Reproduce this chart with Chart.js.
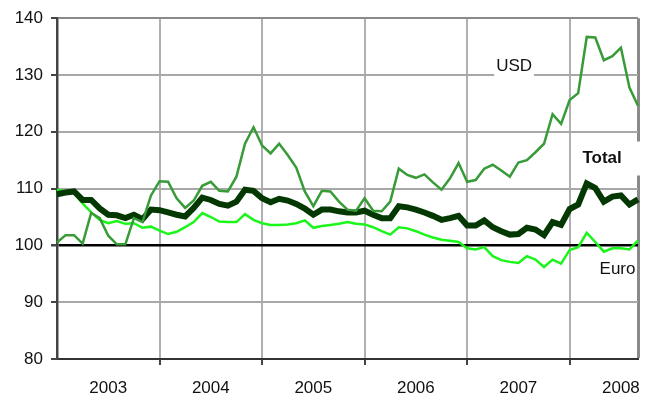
<!DOCTYPE html>
<html>
<head>
<meta charset="utf-8">
<script src="https://cdn.jsdelivr.net/npm/chart.js@4/dist/chart.umd.min.js"></script>
<style>
  html, body { margin: 0; padding: 0; background: #fff; }
  #wrap { width: 655px; height: 403px; }
</style>
</head>
<body>
<div id="wrap"><canvas id="chart" width="655" height="403"></canvas></div>
<script>
// index values, monthly Jan 2003 .. Sep 2008
const years = ['2003', '2004', '2005', '2006', '2007', '2008'];
const yTicks = [80, 90, 100, 110, 120, 130, 140];

const usd = [
  100.5, 101.8, 101.8, 100.3, 105.7, 104.8, 101.7, 100.2, 100.2, 104.8, 104.1, 108.8,
  111.3, 111.2, 108.3, 106.6, 107.9, 110.5, 111.2, 109.6, 109.5, 112.1, 117.9, 120.8,
  117.6, 116.2, 117.9, 115.9, 113.7, 109.5, 106.9, 109.6, 109.5, 107.7, 106.3, 106.1,
  108.3, 106.1, 106.0, 107.7, 113.5, 112.4, 111.9, 112.5, 111.1, 109.8, 111.8, 114.5,
  111.2, 111.5, 113.5, 114.2, 113.2, 112.1, 114.6, 115.0, 116.4, 117.9, 123.1, 121.4,
  125.6, 126.8, 136.7, 136.6, 132.6, 133.3, 134.8, 127.8, 124.6
];
const total = [
  109.0, 109.3, 109.5, 108.0, 108.0, 106.5, 105.4, 105.3, 104.8, 105.4, 104.6, 106.3,
  106.2, 105.8, 105.4, 105.1, 106.6, 108.4, 108.0, 107.3, 107.0, 107.7, 109.8, 109.6,
  108.3, 107.6, 108.2, 107.9, 107.3, 106.5, 105.4, 106.3, 106.3, 106.0, 105.8, 105.8,
  106.1, 105.4, 104.8, 104.8, 106.9, 106.7, 106.3, 105.8, 105.2, 104.5, 104.8, 105.2,
  103.5, 103.5, 104.4, 103.2, 102.5, 101.9, 102.0, 103.1, 102.8, 101.8, 104.1, 103.6,
  106.4, 107.2, 110.9, 110.1, 107.7, 108.6, 108.8, 107.2, 108.1
];
const euro = [
  109.8, 109.5, 109.2, 107.4, 105.8, 104.5, 103.9, 104.3, 103.8, 103.9, 103.1, 103.3,
  102.6, 102.0, 102.4, 103.2, 104.1, 105.7, 105.0, 104.2, 104.1, 104.1, 105.5, 104.5,
  103.9, 103.6, 103.6, 103.7, 103.9, 104.4, 103.1, 103.4, 103.6, 103.8, 104.1, 103.8,
  103.7, 103.2, 102.5, 101.9, 103.2, 103.0, 102.5, 101.9, 101.4, 101.0, 100.8, 100.6,
  99.5, 99.3, 99.7, 98.1, 97.4, 97.1, 96.9, 98.1, 97.5, 96.2, 97.5, 96.8,
  99.2, 99.7, 102.2, 100.6, 98.9, 99.5, 99.5, 99.3, 100.9
];

// one label per month
const months = [];
years.forEach(y => {
  for (let m = 1; m <= 12; m++) {
    if (months.length < usd.length) months.push(y + '-' + String(m).padStart(2, '0'));
  }
});
const last = months.length - 1;

const FONT = "'Liberation Sans', Arial, sans-serif";

// text notes on the plot, placed in data units
const notesPlugin = {
  id: 'notes',
  afterDatasetsDraw(chart) {
    const { ctx, scales: { x, y }, chartArea } = chart;
    ctx.save();
    ctx.textAlign = 'center';
    ctx.textBaseline = 'middle';

    // USD
    let px = x.getPixelForValue(53.5), py = y.getPixelForValue(131.6);
    ctx.font = '17px ' + FONT;
    let w = ctx.measureText('USD').width;
    ctx.fillStyle = '#fff';
    ctx.fillRect(px - w / 2 - 2, py - 12, w + 4, 25);
    ctx.fillStyle = '#111';
    ctx.fillText('USD', px, py);

    // Total
    px = x.getPixelForValue(63.8); py = y.getPixelForValue(115.3);
    ctx.font = 'bold 17px ' + FONT;
    w = ctx.measureText('Total').width;
    ctx.fillStyle = '#fff';
    ctx.fillRect(px - w / 2 - 4, py - 17, chartArea.right + 4 - (px - w / 2 - 4), 34);
    ctx.fillStyle = '#111';
    ctx.fillText('Total', px, py);

    // Euro
    px = x.getPixelForValue(65.6); py = y.getPixelForValue(95.8);
    ctx.font = '17px ' + FONT;
    ctx.fillText('Euro', px, py);
    ctx.restore();
  }
};

new Chart(document.getElementById('chart'), {
  type: 'line',
  data: {
    labels: months,
    datasets: [
      { label: 'USD', data: usd, borderColor: '#379b37', borderWidth: 2.5 },
      { label: 'Total', data: total, borderColor: '#033803', borderWidth: 6 },
      { label: 'Euro', data: euro, borderColor: '#1af51a', borderWidth: 2.5 }
    ]
  },
  options: {
    responsive: false,
    animation: false,
    layout: { padding: { left: 0, top: 15, right: 17, bottom: 0 } },
    elements: {
      point: { radius: 0 },
      line: { tension: 0, borderJoinStyle: 'miter' }
    },
    scales: {
      x: {
        afterFit: s => { s.height = 44; },
        border: { color: '#333', width: 2 },
        grid: {
          color: c => c.index === last ? '#8a8a8a' : (c.index % 12 === 0 && c.index > 0 ? '#b0b0b0' : 'transparent'),
          lineWidth: c => c.index === last ? 3 : 2,
          tickColor: c => (c.index % 12 === 0 && c.index > 0) ? '#444' : 'transparent',
          tickLength: 6
        },
        ticks: {
          autoSkip: false,
          maxRotation: 0,
          padding: 13,
          color: '#111',
          font: { family: FONT, size: 17 },
          callback: (v, i) => i % 12 === 6 ? years[Math.floor(i / 12)] : ''
        }
      },
      y: {
        min: 80,
        max: 140,
        afterFit: s => { s.width = 57; },
        afterBuildTicks: s => { s.ticks = yTicks.map(v => ({ value: v })); },
        border: { color: '#444', width: 2.5 },
        grid: {
          color: c => c.tick.value === 100 ? '#000' : (c.tick.value === 140 ? '#8a8a8a' : '#a8a8a8'),
          lineWidth: c => c.tick.value === 100 ? 2.5 : 2,
          tickColor: '#444',
          tickLength: 6
        },
        ticks: {
          padding: 8,
          color: '#111',
          font: { family: FONT, size: 17 }
        }
      }
    },
    plugins: {
      legend: { display: false },
      tooltip: { enabled: false }
    }
  },
  plugins: [notesPlugin]
});
</script>
</body>
</html>
